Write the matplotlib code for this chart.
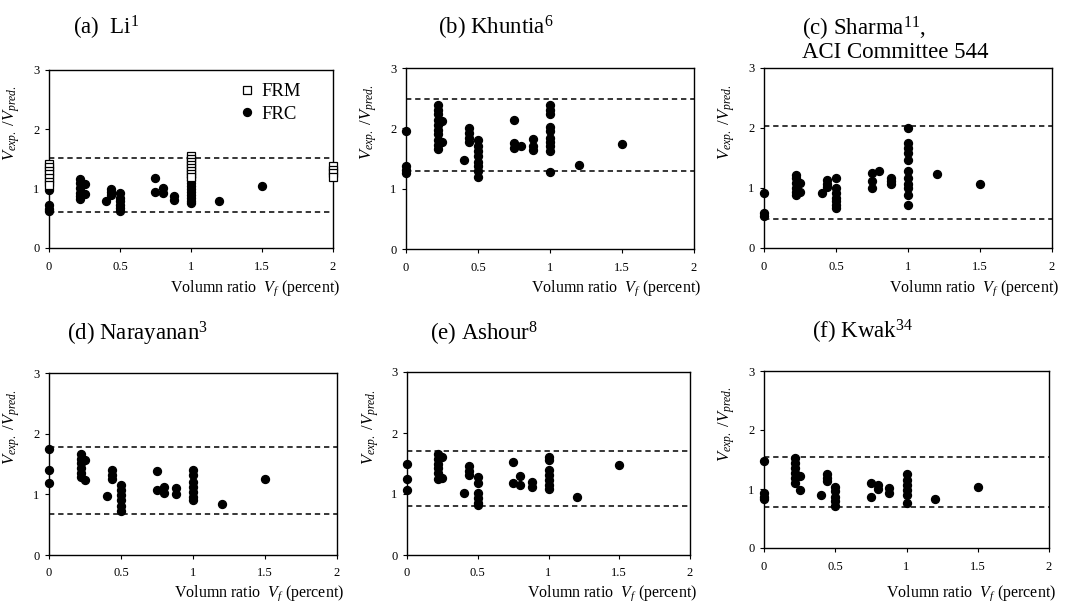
import matplotlib
matplotlib.use("Agg")
import matplotlib.pyplot as plt

# ---- data: volume ratio Vf (percent) -> list of Vexp/Vpred values ----
li_frm = {
    0.0: [1.42, 1.36, 1.30, 1.24, 1.18, 1.12, 1.06],
    1.0: [1.55, 1.50, 1.45, 1.40, 1.35, 1.30, 1.25, 1.20],
    2.0: [1.38, 1.32, 1.26, 1.20],
}
li_frc = {
    0.0: [0.98, 0.72, 0.66, 0.62],
    0.22: [1.16, 1.09, 1.01, 0.93, 0.87, 0.82],
    0.25: [1.08, 0.91],
    0.4: [0.80],
    0.44: [0.99, 0.94, 0.90],
    0.5: [0.93, 0.84, 0.79, 0.73, 0.67, 0.63],
    0.75: [1.18, 0.94],
    0.8: [1.01, 0.93],
    0.88: [0.88, 0.81],
    1.0: [1.20, 1.15, 1.10, 1.05, 1.00, 0.95, 0.90, 0.85, 0.80, 0.76],
    1.2: [0.80],
    1.5: [1.05],
}
khuntia = {
    0.0: [1.96, 1.37, 1.31, 1.26],
    0.22: [2.38, 2.31, 2.23, 2.14, 2.06, 1.98, 1.90, 1.81, 1.73, 1.66],
    0.25: [2.12, 1.77],
    0.4: [1.48],
    0.44: [2.00, 1.92, 1.84, 1.78],
    0.5: [1.80, 1.70, 1.62, 1.54, 1.45, 1.37, 1.29, 1.20],
    0.75: [2.14, 1.76, 1.67],
    0.8: [1.70],
    0.88: [1.82, 1.70, 1.64],
    1.0: [2.39, 2.31, 2.23, 2.03, 1.95, 1.84, 1.77, 1.70, 1.62, 1.27],
    1.2: [1.40],
    1.5: [1.74],
}
sharma = {
    0.0: [0.92, 0.58, 0.53],
    0.22: [1.22, 1.17, 1.08, 1.00, 0.94, 0.89],
    0.25: [1.08, 0.93],
    0.4: [0.92],
    0.44: [1.14, 1.06, 1.01],
    0.5: [1.17, 1.00, 0.92, 0.83, 0.78, 0.72, 0.66],
    0.75: [1.25, 1.11, 1.00],
    0.8: [1.29],
    0.88: [1.17, 1.11, 1.06],
    1.0: [2.00, 1.75, 1.67, 1.58, 1.47, 1.28, 1.17, 1.06, 1.00, 0.89, 0.71],
    1.2: [1.24],
    1.5: [1.07],
}
narayanan = {
    0.0: [1.74, 1.40, 1.18],
    0.22: [1.67, 1.59, 1.51, 1.43, 1.35, 1.29],
    0.25: [1.56, 1.23],
    0.4: [0.97],
    0.44: [1.40, 1.32, 1.25],
    0.5: [1.15, 1.07, 0.99, 0.91, 0.81, 0.72],
    0.75: [1.39, 1.07],
    0.8: [1.12, 1.03],
    0.88: [1.10, 1.01],
    1.0: [1.40, 1.32, 1.21, 1.12, 1.04, 0.96, 0.91],
    1.2: [0.84],
    1.5: [1.26],
}
ashour = {
    0.0: [1.49, 1.25, 1.06],
    0.22: [1.66, 1.58, 1.50, 1.42, 1.34, 1.25],
    0.25: [1.61, 1.27],
    0.4: [1.02],
    0.44: [1.46, 1.38, 1.31],
    0.5: [1.28, 1.18, 1.01, 0.93, 0.86, 0.82],
    0.75: [1.52, 1.18],
    0.8: [1.29, 1.15],
    0.88: [1.20, 1.12],
    1.0: [1.61, 1.55, 1.39, 1.31, 1.23, 1.15, 1.09],
    1.2: [0.95],
    1.5: [1.48],
}
kwak = {
    0.0: [1.47, 0.93, 0.87, 0.83],
    0.22: [1.52, 1.44, 1.35, 1.27, 1.18, 1.11],
    0.25: [1.22, 0.99],
    0.4: [0.90],
    0.44: [1.26, 1.18, 1.13],
    0.5: [1.04, 0.96, 0.87, 0.79, 0.71],
    0.75: [1.11, 0.87],
    0.8: [1.07, 1.00],
    0.88: [1.02, 0.94],
    1.0: [1.26, 1.16, 1.07, 0.99, 0.90, 0.77],
    1.2: [0.83],
    1.5: [1.04],
}

panel_data = [li_frc, khuntia, sharma, narayanan, ashour, kwak]
titles = [r"(a)  Li$^{1}$", r"(b) Khuntia$^{6}$",
          "(c) Sharma$^{11}$,\nACI Committee 544",
          r"(d) Narayanan$^{3}$", r"(e) Ashour$^{8}$", r"(f) Kwak$^{34}$"]
upper_bounds = [1.52, 2.48, 2.04, 1.78, 1.70, 1.55]
lower_bounds = [0.61, 1.29, 0.49, 0.67, 0.81, 0.70]
x_ticks = [0, 0.5, 1, 1.5, 2]
x_tick_labels = ["0", "0.5", "1", "1.5", "2"]
y_ticks = [0, 1, 2, 3]


def flatten(d):
    xs, ys = [], []
    for k, vals in d.items():
        xs += [k] * len(vals)
        ys += vals
    return xs, ys


plt.rcParams["font.family"] = ["Liberation Serif", "DejaVu Serif"]
plt.rcParams["mathtext.fontset"] = "custom"
plt.rcParams["mathtext.rm"] = "Liberation Serif"
plt.rcParams["mathtext.it"] = "Liberation Serif:italic"

W, H = 1072, 604
fig = plt.figure(figsize=(W / 100, H / 100), dpi=100)

# axes boxes in pixels: left, top, right, bottom
boxes = [(49, 70, 333, 248), (406, 68, 694, 249), (764, 68, 1052, 248),
         (49, 373, 337, 555), (407, 372, 690, 555), (764, 371, 1049, 548)]
title_pos = [(73, 28), (438, 28), (802, 29), (67, 334), (430, 334), (812, 332)]
xlabel_y = [288, 288, 288, 593, 593, 593]

for i, (l, t, r, b) in enumerate(boxes):
    ax = fig.add_axes([l / W, 1 - b / H, (r - l) / W, (b - t) / H])
    xs, ys = flatten(panel_data[i])
    ax.plot(xs, ys, "o", color="black", ms=5.7, zorder=3,
            label="FRC", clip_on=False)
    if i == 0:
        fx, fy = flatten(li_frm)
        ax.plot(fx, fy, "s", mfc="white", mec="black", mew=0.9, ms=6,
                zorder=4, label="FRM", clip_on=False)
        h, lab = ax.get_legend_handles_labels()
        ax.legend(h[::-1], lab[::-1], loc="upper right", frameon=False,
                  fontsize=13.5, handletextpad=0.3, handlelength=1.0,
                  labelspacing=0.3, borderaxespad=0.3,
                  bbox_to_anchor=(0.935, 1.0))
    ax.axhline(upper_bounds[i], color="black", ls=(0, (3.5, 2.5)), lw=1.1)
    ax.axhline(lower_bounds[i], color="black", ls=(0, (3.5, 2.5)), lw=1.1)

    ax.set_xlim(0, 2)
    ax.set_ylim(0, 3)
    ax.set_xticks(x_ticks)
    ax.set_xticklabels(x_tick_labels)
    ax.set_yticks(y_ticks)
    ax.tick_params(axis="both", labelsize=9, length=3, width=0.8,
                   direction="out")
    ax.tick_params(axis="x", pad=6)
    ax.tick_params(axis="y", pad=4)
    for sp in ax.spines.values():
        sp.set_linewidth(1.0)

    ax.set_ylabel(r"$V_{exp.}$ /$V_{pred.}$", fontsize=12, va="center")
    ax.yaxis.set_label_coords(-0.13, 0.70)
    ax.set_xlabel(r"Volumn ratio  $V_f$ (percent)", fontsize=11.5,
                  ha="right", va="center")
    ax.xaxis.set_label_coords(1.025, -(xlabel_y[i] - b) / (b - t))

    tx, ty = title_pos[i]
    for j, line in enumerate(titles[i].split("\n")):
        fig.text(tx / W, 1 - (ty + 23 * j) / H, line, fontsize=16.5,
                 ha="left", va="center")

fig.savefig("out.png", dpi=100)
